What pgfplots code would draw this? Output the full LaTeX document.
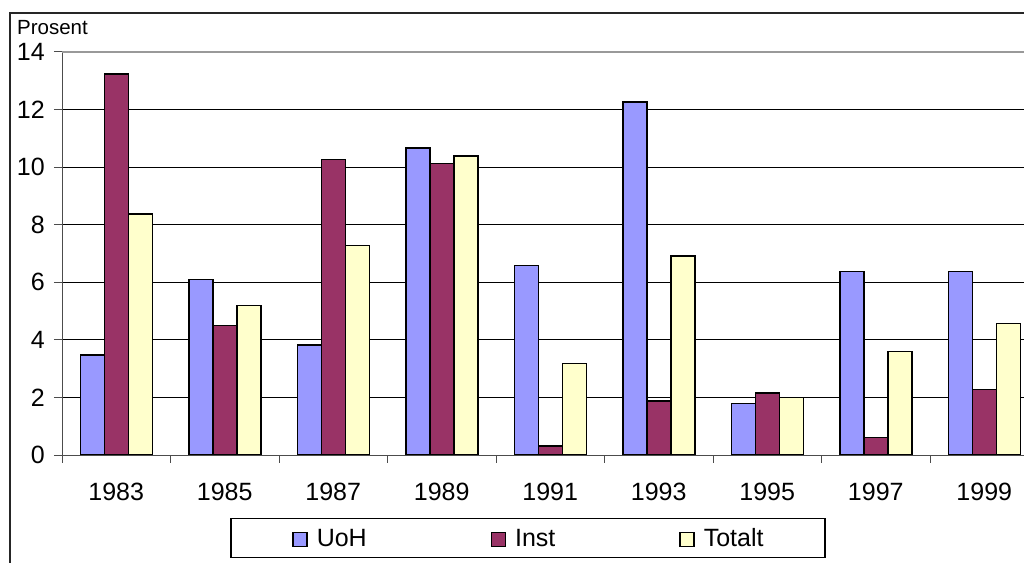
\documentclass[border=0pt]{standalone}
\usepackage{pgfplots}
\pgfplotsset{compat=1.18}
\usepackage{fontspec}
\setmainfont{Liberation Sans}
\definecolor{uoh}{HTML}{9999FF}
\definecolor{inst}{HTML}{993366}
\definecolor{tot}{HTML}{FFFFCC}
\pgfplotsset{legimg/.style={legend image code/.code={%
  \draw[##1, line width=1.2bp] (0bp,0bp) rectangle (14bp,14bp);
  \path (23bp,0bp);}}}
\begin{document}
\begin{tikzpicture}
\path[use as bounding box] (0,0) rectangle (1024bp,563bp);
\clip (0,0) rectangle (1024bp,563bp);
\fill[white] (0,0) rectangle (1024bp,563bp);
\draw[line width=1.8bp, black!85] (10bp,-20bp) -- (10bp,550bp) -- (1100bp,550bp);
\node[anchor=base west, inner sep=0pt, font=\fontsize{20.5bp}{24bp}\selectfont] at (17bp,528.5bp) {Prosent};
\begin{axis}[
  at={(62bp,108bp)}, anchor=south west,
  scale only axis, width=976.5bp, height=403bp,
  xmin=-0.5, xmax=8.5, ymin=0, ymax=14,
  ybar=0pt, bar width=24bp,
  axis lines=left, axis line style={-, black!70, line width=1bp},
  tick align=outside, major tick length=8bp,
  tick style={black!70, line width=1bp},
  ymajorgrids, grid style={black, line width=1bp},
  ytick={0,2,4,6,8,10,12},
  extra y ticks={14},
  extra y tick style={grid style={black!40, line width=1.3bp}},
  xtick={-0.5,0.5,1.5,2.5,3.5,4.5,5.5,6.5,7.5},
  xticklabels={1983,1985,1987,1989,1991,1993,1995,1997,1999},
  /pgf/number format/assume math mode=true,
  tick label style={font=\fontsize{25bp}{30bp}\selectfont},
  xticklabel style={xshift=54.25bp, anchor=north, inner sep=0pt, yshift=-20bp},
  yticklabel style={anchor=east, inner sep=0pt, xshift=-9bp},
  legend columns=3,
  legend style={at={(0.4772,-0.206)}, anchor=center, draw=black, line width=1.2bp,
    inner xsep=61.5bp, inner ysep=10bp,
    font=\fontsize{25bp}{30bp}\selectfont,
    nodes={inner sep=0pt, text height=18bp, text depth=0pt, anchor=base west},
    /tikz/every even column/.append style={column sep=124bp}},
]
\addplot[fill=uoh, draw=black, line width=1.5bp, legimg] coordinates {
(0,3.47) (1,6.09) (2,3.82) (3,10.67) (4,6.58) (5,12.27) (6,1.79) (7,6.38) (8,6.38)};
\addplot[fill=inst, draw=black, line width=1.5bp, legimg] coordinates {
(0,13.24) (1,4.50) (2,10.27) (3,10.12) (4,0.31) (5,1.87) (6,2.15) (7,0.61) (8,2.27)};
\addplot[fill=tot, draw=black, line width=1.5bp, legimg] coordinates {
(0,8.38) (1,5.19) (2,7.27) (3,10.39) (4,3.18) (5,6.92) (6,2.00) (7,3.60) (8,4.57)};
\legend{UoH,Inst,Totalt}
\end{axis}
\end{tikzpicture}
\end{document}
